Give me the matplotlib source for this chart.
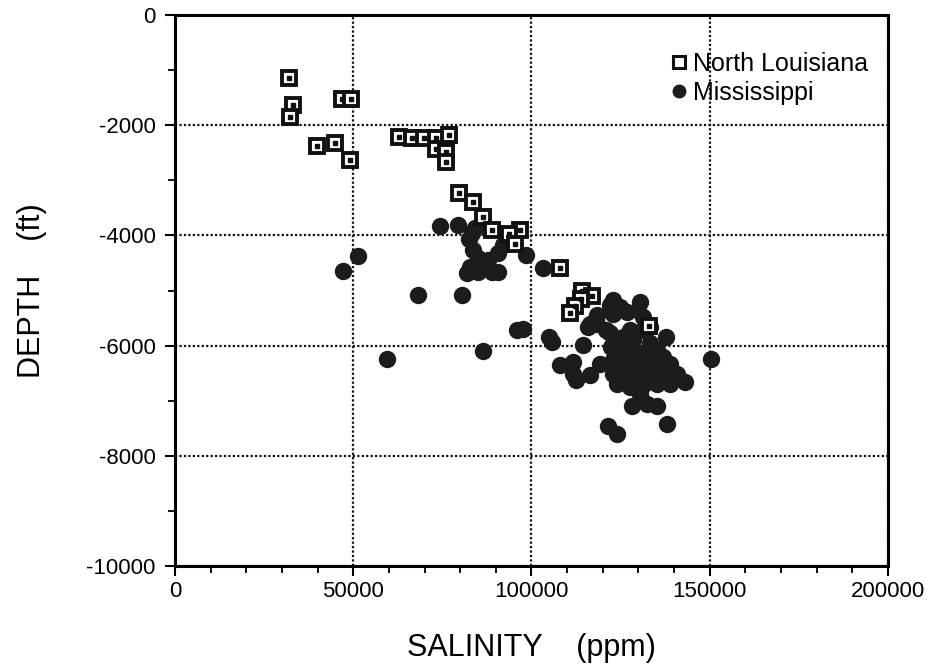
import numpy as np
import matplotlib
matplotlib.use('Agg')
import matplotlib.pyplot as plt
from matplotlib.ticker import MultipleLocator
from matplotlib.lines import Line2D

plt.rcParams['font.family'] = ['Liberation Sans', 'DejaVu Sans']
plt.rcParams['axes.unicode_minus'] = False

# North Louisiana (salinity ppm, depth ft)
la_salinity = [32000, 33200, 32300, 46800, 49400, 39700, 44800, 49200,
               62900, 66400, 69900, 73100, 76900, 73200, 75900, 75900,
               79800, 83500, 86500, 88800, 96800, 93800, 95400,
               108000, 114100, 116900, 113800, 112200, 110800, 133000]
la_depth = [-1150, -1625, -1860, -1520, -1520, -2380, -2330, -2630,
            -2210, -2230, -2230, -2230, -2180, -2440, -2480, -2670,
            -3230, -3385, -3675, -3905, -3905, -3970, -4165,
            -4590, -5000, -5100, -5160, -5285, -5400, -5650]

# Mississippi (salinity ppm, depth ft)
ms_salinity = [74300, 79500, 51400, 47200, 68300, 80400, 96000, 97500,
               105000, 105700, 86300, 59400, 103300, 98500, 114500,
               82500, 84100, 83700, 85100, 81800, 85100, 88800, 90700,
               87900, 90700, 92100, 94000, 82700, 87000, 83200,
               122400, 137800, 150400, 108000, 111700, 111700, 112600,
               116400, 119200, 123000, 130400, 118300, 116400, 123000,
               126700, 131400, 133200, 122000, 125800, 128600, 133300,
               123000, 125800, 129500, 133200, 137000, 138900, 140700,
               143000, 123000, 126700, 130400, 134200, 137900, 123900,
               127600, 131400, 135100, 138900, 130400, 128100, 132300,
               135100, 137900, 121500, 123900, 115900, 122000, 124800,
               130000, 118300, 121000, 127600, 131400, 124800, 127600,
               130400, 135100, 126700, 131400, 136000, 128600, 133200]
ms_depth = [-3825, -3820, -4370, -4640, -5080, -5080, -5710, -5700,
            -5840, -5930, -6100, -6250, -4600, -4350, -5990,
            -4070, -3860, -4260, -4410, -4690, -4660, -4660, -4660,
            -4440, -4320, -4170, -4140, -4570, -4570, -3960,
            -6020, -5840, -6240, -6360, -6300, -6510, -6630,
            -6540, -6330, -5170, -5200, -5450, -5600, -5420,
            -5390, -5480, -5660, -5780, -5840, -5900, -5960,
            -6270, -6330, -6270, -6270, -6210, -6330, -6510,
            -6660, -6510, -6570, -6510, -6510, -6570, -6690,
            -6750, -6720, -6690, -6690, -6870, -7090, -7060,
            -7090, -7420, -7450, -7600, -5660, -5260, -5300,
            -5360, -5600, -5720, -5720, -5720, -6080, -6140,
            -6140, -6080, -6390, -6390, -6390, -6630, -6630]

fig = plt.figure(figsize=(9.38, 6.72), dpi=100)
ax = fig.add_axes([0.1866, 0.1577, 0.76, 0.82])

ax.plot(ms_salinity, ms_depth, 'o', ms=11.5, mfc='#1c1c1c', mec='#1c1c1c',
        ls='none', zorder=3)
ax.plot(la_salinity, la_depth, 's', ms=10.5, mfc='white', mec='#111111', mew=2.8,
        ls='none', zorder=4)
ax.plot(la_salinity, la_depth, 's', ms=2.2, mfc='#111111', mec='#111111',
        ls='none', zorder=5)

ax.set_xlim(0, 200000)
ax.set_ylim(-10000, 0)
ax.xaxis.set_major_locator(MultipleLocator(50000))
ax.xaxis.set_minor_locator(MultipleLocator(10000))
ax.yaxis.set_major_locator(MultipleLocator(2000))
ax.yaxis.set_minor_locator(MultipleLocator(1000))
ax.tick_params(which='major', length=7, width=1.5, labelsize=16, pad=7)
ax.tick_params(axis='x', which='major', pad=4)
ax.tick_params(which='minor', length=5, width=1.3)
for s in ax.spines.values():
    s.set_linewidth(2.2)

ax.grid(True, which='major', ls=(0, (1, 1)), color='#111111', lw=1.6)
ax.set_axisbelow(True)

ax.set_xlabel('SALINITY    (ppm)', fontsize=22, labelpad=22)
ax.set_ylabel('DEPTH    (ft)', fontsize=22, labelpad=28)

sq = Line2D([], [], marker='s', ms=8, mfc='white', mec='#111111', mew=2.2, ls='none')
ci = Line2D([], [], marker='o', ms=9, mfc='#1c1c1c', mec='#1c1c1c', ls='none')
ax.legend([sq, ci], ['North Louisiana', 'Mississippi'], loc='upper right',
          bbox_to_anchor=(1.0, 0.97), frameon=False, fontsize=18,
          handletextpad=0.15, labelspacing=0.2, borderaxespad=0.4,
          handlelength=0.8)

fig.savefig('out.png', dpi=100, facecolor='white')
